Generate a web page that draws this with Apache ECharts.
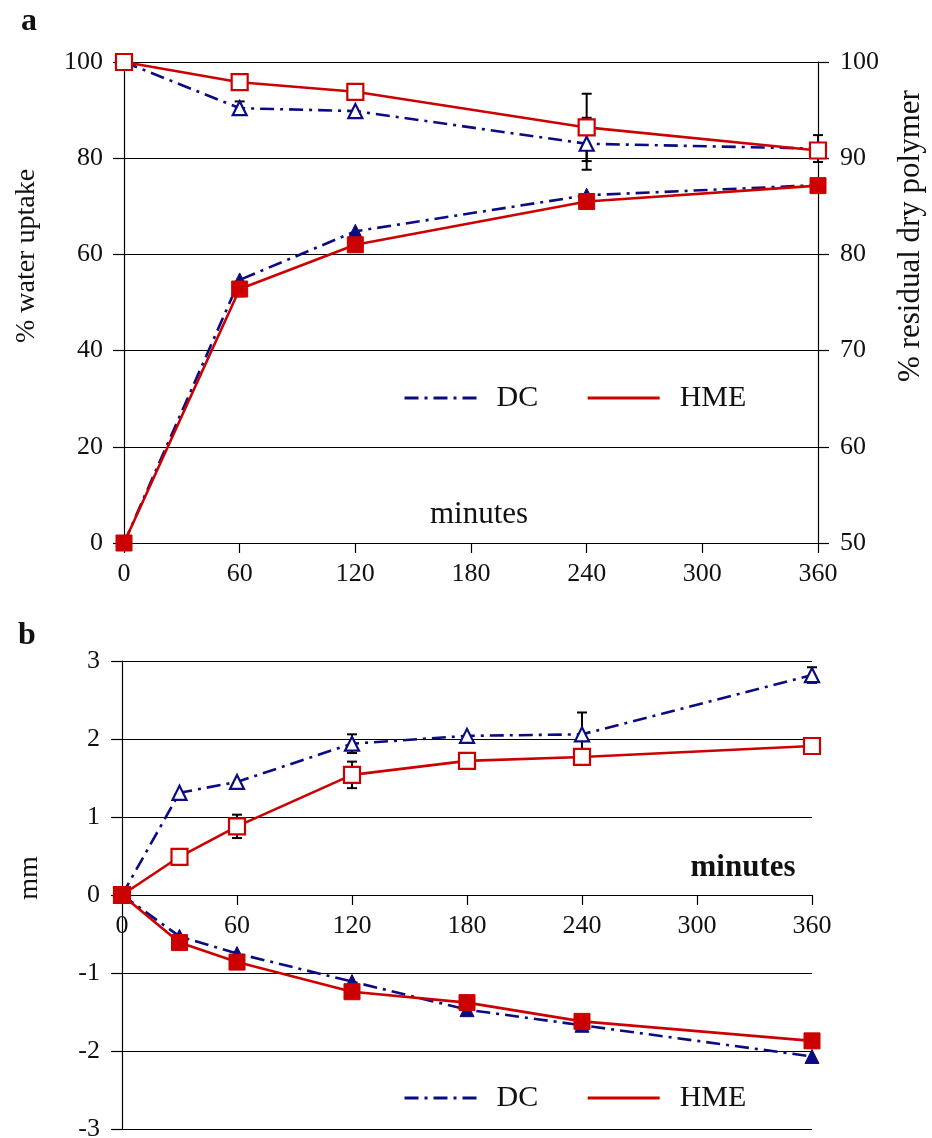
<!DOCTYPE html>
<html>
<head>
<meta charset="utf-8">
<script src="https://cdn.jsdelivr.net/npm/echarts@6/dist/echarts.min.js"></script>
<style>
html,body{margin:0;padding:0;background:#fff;}
#chart{width:932px;height:1138px;}
</style>
</head>
<body>
<div id="chart"></div>
<script>
// ---------- Panel a data ----------
const timesA = [0, 60, 120, 240, 360];
const uptakeDC = [0, 54.7, 64.8, 72.3, 74.4];
const uptakeHME = [0, 52.8, 62.0, 71.0, 74.3];
const residualDC = [100, 95.2, 94.9, 91.5, 91.0];
const residualHME = [100, 97.9, 96.9, 93.2, 90.8];
const errUptakeHME = [0, 1.5, 0, 0, 0];
const errResidualDC = [0, 0.7, 0, 2.7, 1.4];
const errResidualHME = [0, 0, 0, 3.5, 0];

// ---------- Panel b data ----------
const timesB = [0, 30, 60, 120, 180, 240, 360];
const upperDC = [0, 1.31, 1.45, 1.94, 2.04, 2.06, 2.82];
const upperHME = [0, 0.49, 0.88, 1.54, 1.72, 1.77, 1.91];
const lowerDC = [0, -0.53, -0.75, -1.11, -1.47, -1.67, -2.07];
const lowerHME = [0, -0.61, -0.86, -1.24, -1.38, -1.62, -1.87];
const errUpperDC = [0, 0, 0, 0.12, 0, 0.28, 0.1];
const errUpperHME = [0, 0, 0.15, 0.17, 0, 0, 0];

// ---------- Axis ticks / labels ----------
const xTicks = {min: 0, max: 360, interval: 60};
const yLeftA = {min: 0, max: 100, interval: 20};
const yRightA = {min: 50, max: 100, interval: 10};
const yB = {min: -3, max: 3, interval: 1};
const seriesNames = ['DC', 'HME'];
const titles = {
  panelA: 'a', panelB: 'b',
  yLeftA: '% water uptake', yRightA: '% residual dry polymer',
  yB: 'mm', xA: 'minutes', xB: 'minutes'
};

const FONT = 'Liberation Serif';
const NAVY = '#0b0b82';
const RED = '#cc0000';
const TXT = '#111';
const dashDot = [14, 6, 3, 6];

const gridA = {left: 124, top: 62, width: 694, height: 481};
const gridB = {left: 122, top: 661, width: 690, height: 468};
// x axis of panel b crosses the y axis at value 0
const xAxisBOffset = -gridB.height * (0 - yB.min) / (yB.max - yB.min);

function pairs(xs, ys) { return xs.map((x, i) => [x, ys[i]]); }

function lineSeries(name, xs, ys, xi, yi, opts) {
  const isDC = name === 'DC';
  return {
    name: name, type: 'line', xAxisIndex: xi, yAxisIndex: yi,
    data: pairs(xs, ys), clip: false,
    symbol: isDC ? 'triangle' : 'rect',
    symbolSize: isDC ? 14 : 16,
    lineStyle: {color: isDC ? NAVY : RED, width: 2.6, type: isDC ? dashDot : 'solid'},
    itemStyle: opts.open
      ? {color: '#fff', borderColor: isDC ? NAVY : RED, borderWidth: 2.2}
      : {color: isDC ? NAVY : RED, borderColor: isDC ? NAVY : RED, borderWidth: 1},
    emphasis: {disabled: true},
    z: isDC ? 3 : 4,
    animation: false
  };
}

function errSeries(xs, ys, errs, xi, yi) {
  const data = xs.map((x, i) => [x, ys[i], errs[i]]).filter(d => d[2] > 0);
  return {
    type: 'custom', xAxisIndex: xi, yAxisIndex: yi, data: data, z: 2,
    encode: {x: 0, y: 1}, animation: false, silent: true,
    renderItem: function (params, api) {
      const x = api.value(0), y = api.value(1), e = api.value(2);
      const t = api.coord([x, y + e]);
      const b = api.coord([x, y - e]);
      const hw = 5;
      const st = {stroke: '#000', lineWidth: 2};
      return {type: 'group', children: [
        {type: 'line', shape: {x1: t[0], y1: t[1], x2: b[0], y2: b[1]}, style: st},
        {type: 'line', shape: {x1: t[0] - hw, y1: t[1], x2: t[0] + hw, y2: t[1]}, style: st},
        {type: 'line', shape: {x1: b[0] - hw, y1: b[1], x2: b[0] + hw, y2: b[1]}, style: st}
      ]};
    }
  };
}

const axisLineStyle = {color: '#000', width: 1.2};
const labelStyle = {fontFamily: FONT, fontSize: 26, color: TXT};

function text(x, y, str, size, rot, bold) {
  return {
    type: 'text', x: x, y: y, rotation: rot || 0, silent: true,
    style: {
      text: str, font: (bold ? 'bold ' : '') + size + 'px "' + FONT + '"',
      fill: TXT, align: 'center', verticalAlign: 'middle',
      textAlign: 'center', textVerticalAlign: 'middle'
    }
  };
}

const chart = echarts.init(document.getElementById('chart'), null, {renderer: 'canvas'});
const legendBase = {
  data: seriesNames, orient: 'horizontal', itemWidth: 72, itemHeight: 20, itemGap: 48,
  textStyle: {fontFamily: FONT, fontSize: 30, color: TXT, padding: [0, 0, 0, 15]},
  itemStyle: {opacity: 0}, lineStyle: {width: 3}, selectedMode: false, padding: 0
};

chart.setOption({
  backgroundColor: '#fff',
  animation: false,
  grid: [
    Object.assign({outerBoundsMode: 'none', containLabel: false}, gridA),
    Object.assign({outerBoundsMode: 'none', containLabel: false}, gridB)
  ],
  xAxis: [
    {type: 'value', gridIndex: 0, min: xTicks.min, max: xTicks.max, interval: xTicks.interval,
     axisLine: {show: true, onZero: false, lineStyle: axisLineStyle},
     axisTick: {show: true, length: 10, lineStyle: {color: '#000', width: 1.2}},
     axisLabel: Object.assign({margin: 18}, labelStyle), splitLine: {show: false}},
    {type: 'value', gridIndex: 1, position: 'bottom', offset: xAxisBOffset,
     min: xTicks.min, max: xTicks.max, interval: xTicks.interval,
     axisLine: {show: true, onZero: false, lineStyle: axisLineStyle},
     axisTick: {show: true, length: 10, lineStyle: {color: '#000', width: 1.2}},
     axisLabel: Object.assign({margin: 18}, labelStyle), splitLine: {show: false}}
  ],
  yAxis: [
    {type: 'value', gridIndex: 0, position: 'left', min: yLeftA.min, max: yLeftA.max, interval: yLeftA.interval,
     axisLine: {show: true, onZero: false, lineStyle: axisLineStyle},
     axisTick: {show: true, length: 11, lineStyle: {color: '#000', width: 1.2}},
     axisLabel: Object.assign({margin: 21}, labelStyle),
     splitLine: {show: true, lineStyle: {color: '#000', width: 1.2}}},
    {type: 'value', gridIndex: 0, position: 'right', min: yRightA.min, max: yRightA.max, interval: yRightA.interval,
     axisLine: {show: true, onZero: false, lineStyle: axisLineStyle},
     axisTick: {show: true, length: 11, lineStyle: {color: '#000', width: 1.2}},
     axisLabel: Object.assign({margin: 22}, labelStyle),
     splitLine: {show: false}},
    {type: 'value', gridIndex: 1, min: yB.min, max: yB.max, interval: yB.interval,
     axisLine: {show: true, onZero: false, lineStyle: axisLineStyle},
     axisTick: {show: true, length: 11, lineStyle: {color: '#000', width: 1.2}},
     axisLabel: Object.assign({margin: 22}, labelStyle),
     splitLine: {show: true, lineStyle: {color: '#000', width: 1.2}}}
  ],
  legend: [
    Object.assign({left: 403, top: 383}, legendBase),
    Object.assign({left: 403, top: 1083}, legendBase)
  ],
  series: [
    errSeries(timesA, uptakeHME, errUptakeHME, 0, 0),
    errSeries(timesA, residualDC, errResidualDC, 0, 1),
    errSeries(timesA, residualHME, errResidualHME, 0, 1),
    lineSeries('DC', timesA, uptakeDC, 0, 0, {open: false}),
    lineSeries('HME', timesA, uptakeHME, 0, 0, {open: false}),
    lineSeries('DC', timesA, residualDC, 0, 1, {open: true}),
    lineSeries('HME', timesA, residualHME, 0, 1, {open: true}),
    errSeries(timesB, upperDC, errUpperDC, 1, 2),
    errSeries(timesB, upperHME, errUpperHME, 1, 2),
    lineSeries('DC', timesB, upperDC, 1, 2, {open: true}),
    lineSeries('HME', timesB, upperHME, 1, 2, {open: true}),
    lineSeries('DC', timesB, lowerDC, 1, 2, {open: false}),
    lineSeries('HME', timesB, lowerHME, 1, 2, {open: false})
  ],
  graphic: [
    text(29, 22, titles.panelA, 32, 0, true),
    text(27, 636, titles.panelB, 32, 0, true),
    text(27, 256, titles.yLeftA, 28, Math.PI / 2, false),
    text(911, 236, titles.yRightA, 31, Math.PI / 2, false),
    text(30, 878, titles.yB, 28, Math.PI / 2, false),
    text(479, 515, titles.xA, 31, 0, false),
    text(743, 868, titles.xB, 31, 0, true)
  ]
});
</script>
</body>
</html>
